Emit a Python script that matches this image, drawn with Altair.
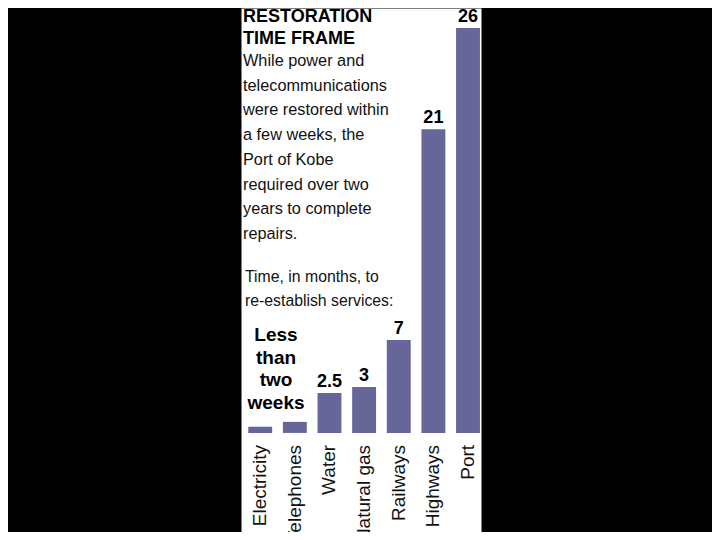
import altair as alt
import pandas as pd

# ---- data ----
categories = ["Electricity", "Telephones", "Water", "Natural gas", "Railways", "Highways", "Port"]
# bar lengths in months as drawn in the graphic
months = [0.39, 0.71, 2.57, 2.95, 5.97, 19.5, 26.0]
# printed value labels
value_labels = ["", "", "2.5", "3", "7", "21", "26"]

title_lines = ["RESTORATION", "TIME FRAME"]
body_lines = [
    "While power and",
    "telecommunications",
    "were restored within",
    "a few weeks, the",
    "Port of Kobe",
    "required over two",
    "years to complete",
    "repairs.",
]
note_lines = ["Time, in months, to", "re-establish services:"]
short_lines = ["Less", "than", "two", "weeks"]

BAR = "#666699"
SANS = "Liberation Sans"

df = pd.DataFrame({"cat": categories, "months": months, "label": value_labels})

xs = alt.X("cat:N", sort=categories, axis=None,
           scale=alt.Scale(paddingInner=0.31, paddingOuter=0.12, align=0.875))
ys = alt.Y("months:Q", axis=None,
           scale=alt.Scale(domain=[-6.36, 27.28], zero=False, nice=False))

base = alt.Chart(df)

bars = base.mark_bar(color=BAR).encode(x=xs, y=ys, y2=alt.datum(0))

values = base.mark_text(font=SANS, fontWeight="bold", fontSize=18, baseline="alphabetic",
                        dy=-6, color="black").encode(x=xs, y=ys, text="label:N")

cat_labels = base.mark_text(font=SANS, fontSize=19, angle=270, align="right",
                            baseline="middle", dx=-12, color="#111111").encode(
    x=xs, y=alt.datum(0), text="cat:N")


def block(lines, x, y, size, lh, weight="normal", align="left", color="#111111"):
    d = pd.DataFrame({"t": ["\n".join(lines)]})
    return alt.Chart(d).mark_text(font=SANS, fontSize=size, fontWeight=weight, align=align,
                                  baseline="alphabetic", lineBreak="\n", lineHeight=lh,
                                  color=color).encode(
        x=alt.value(x), y=alt.value(y), text="t:N")


title = block(title_lines, 2, 14, 18, 22, weight="bold", color="black")
body = block(body_lines, 2, 58, 16.3, 24.7)
note = block(note_lines, 4, 274, 15.8, 23.5)
short = block(short_lines, 35, 333, 19, 22.7, weight="bold", align="center", color="black")

chart = alt.layer(bars, values, cat_labels, title, body, note, short).properties(
    width=240, height=524,
    autosize=alt.AutoSizeParams(type="none"),
    padding={"left": 233, "right": 231, "top": 0, "bottom": 0},
    background="black",
).configure_view(fill="white", strokeOpacity=0)

chart.save("out.html", embed_options={"renderer": "svg", "actions": False})
